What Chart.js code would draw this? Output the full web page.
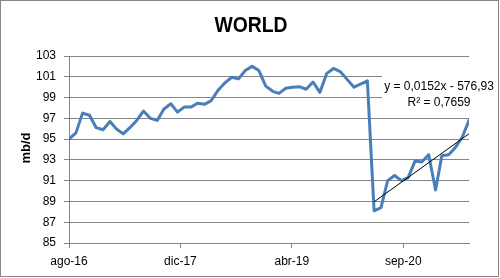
<!DOCTYPE html>
<html>
<head>
<meta charset="utf-8">
<script src="https://cdn.jsdelivr.net/npm/chart.js@4/dist/chart.umd.min.js"></script>
<style>
html,body{margin:0;padding:0;background:#fff;}
canvas{display:block;}
</style>
</head>
<body>
<canvas id="c" width="500" height="278"></canvas>
<script>
// ---- data ----
const chartTitle = 'WORLD';
const yAxisTitle = 'mb/d';
const months = [
 '2016-08','2016-09','2016-10','2016-11','2016-12',
 '2017-01','2017-02','2017-03','2017-04','2017-05','2017-06','2017-07','2017-08','2017-09','2017-10','2017-11','2017-12',
 '2018-01','2018-02','2018-03','2018-04','2018-05','2018-06','2018-07','2018-08','2018-09','2018-10','2018-11','2018-12',
 '2019-01','2019-02','2019-03','2019-04','2019-05','2019-06','2019-07','2019-08','2019-09','2019-10','2019-11','2019-12',
 '2020-01','2020-02','2020-03','2020-04','2020-05','2020-06','2020-07','2020-08','2020-09','2020-10','2020-11','2020-12',
 '2021-01','2021-02','2021-03','2021-04','2021-05','2021-06','2021-07'
];
const worldValues = [
 95.0, 95.6, 97.5, 97.3, 96.1,
 95.9, 96.7, 96.0, 95.5, 96.1, 96.8, 97.7, 97.0, 96.8, 97.9, 98.4, 97.6,
 98.1, 98.1, 98.45, 98.35, 98.7, 99.7, 100.4, 100.95, 100.8, 101.6, 102.0, 101.6,
 100.1, 99.6, 99.4, 99.9, 100.0, 100.05, 99.8, 100.5, 99.5, 101.3, 101.8, 101.5,
 100.75, 100.0, 100.3, 100.6, 88.1, 88.4, 91.0, 91.5, 91.0, 91.3, 92.9, 92.8,
 93.5, 90.1, 93.4, 93.5, 94.2, 95.2, 96.8
];
const trendStartIndex = 45; // trend fitted from 2020-05 onward
const xTickDays = [0, 500, 1000, 1500];
const xTickLabels = ['ago-16', 'dic-17', 'abr-19', 'sep-20'];
const yTicks = [85, 87, 89, 91, 93, 95, 97, 99, 101, 103];
const trendEquation = 'y = 0,0152x - 576,93';
const trendR2 = 'R\u00B2 = 0,7659';

// ---- build ----
const base = Date.UTC(2016, 7, 1);
function dayOf(s){ const [y,m] = s.split('-').map(Number); return (Date.UTC(y, m-1, 1) - base) / 86400000; }
const points = months.map((m,i) => ({x: dayOf(m), y: worldValues[i]}));

// least-squares trend over the recovery period
const tp = points.slice(trendStartIndex);
const n = tp.length;
const mx = tp.reduce((a,p)=>a+p.x,0)/n, my = tp.reduce((a,p)=>a+p.y,0)/n;
let sxy=0, sxx=0; tp.forEach(p=>{sxy+=(p.x-mx)*(p.y-my); sxx+=(p.x-mx)*(p.x-mx);});
const slope = sxy/sxx, icpt = my - slope*mx;
const trendPts = [tp[0].x, tp[n-1].x].map(x => ({x, y: slope*x + icpt}));

const GRID = '#868686';
const FONT = "'Liberation Sans', Arial, sans-serif";

const decor = {
  id: 'decor',
  afterDatasetsDraw(chart){
    const ctx = chart.ctx;
    ctx.save();
    // equation label box
    ctx.fillStyle = '#fff';
    ctx.fillRect(382, 72, 116, 38);
    ctx.fillStyle = '#000';
    ctx.font = '12px ' + FONT;
    ctx.textAlign = 'center';
    ctx.textBaseline = 'middle';
    ctx.fillText(trendEquation, 439, 87);
    ctx.fillText(trendR2, 439, 103);
    // title (slightly condensed to mimic Calibri)
    ctx.save();
    ctx.translate(251, 26);
    ctx.scale(0.88, 1);
    ctx.font = 'bold 22px ' + FONT;
    ctx.fillText(chartTitle, 0, 0);
    ctx.restore();
    // y axis title
    ctx.translate(26, 148);
    ctx.rotate(-Math.PI/2);
    ctx.font = 'bold 13px ' + FONT;
    ctx.fillText(yAxisTitle, 0, 0);
    ctx.restore();
    // outer border
    ctx.save();
    ctx.strokeStyle = GRID;
    ctx.lineWidth = 1;
    ctx.strokeRect(0.5, 0.5, 498, 276);
    ctx.restore();
  }
};

new Chart(document.getElementById('c'), {
  type: 'line',
  data: {
    datasets: [
      {
        data: points,
        borderColor: '#4a7ebb',
        borderWidth: 3,
        pointRadius: 0,
        tension: 0,
        borderJoinStyle: 'round',
        borderCapStyle: 'round',
        order: 2
      },
      {
        data: trendPts,
        borderColor: '#000',
        borderWidth: 1,
        pointRadius: 0,
        tension: 0,
        order: 1
      }
    ]
  },
  options: {
    responsive: false,
    animation: false,
    layout: { padding: { top: 56, right: 31, bottom: 0, left: 0 } },
    plugins: { legend: { display: false }, title: { display: false }, tooltip: { enabled: false } },
    scales: {
      x: {
        type: 'linear',
        min: 0,
        max: points[points.length-1].x,
        afterBuildTicks: (s) => { s.ticks = xTickDays.map(v => ({value: v})); },
        afterFit: (s) => { s.height = 35; },
        grid: { drawOnChartArea: false, drawTicks: true, tickLength: 5, color: GRID },
        border: { color: GRID },
        ticks: {
          maxRotation: 0,
          autoSkip: false,
          padding: 6,
          color: '#000',
          font: { family: FONT, size: 12 },
          callback: (v) => { const i = xTickDays.indexOf(v); return i >= 0 ? xTickLabels[i] : ''; }
        }
      },
      y: {
        min: 85,
        max: 103,
        afterBuildTicks: (s) => { s.ticks = yTicks.map(v => ({value: v})); },
        afterFit: (s) => { s.width = 69; },
        grid: { color: GRID, tickLength: 5 },
        border: { color: GRID },
        ticks: {
          padding: 8,
          color: '#000',
          font: { family: FONT, size: 12 }
        }
      }
    }
  },
  plugins: [decor]
});
</script>
</body>
</html>
